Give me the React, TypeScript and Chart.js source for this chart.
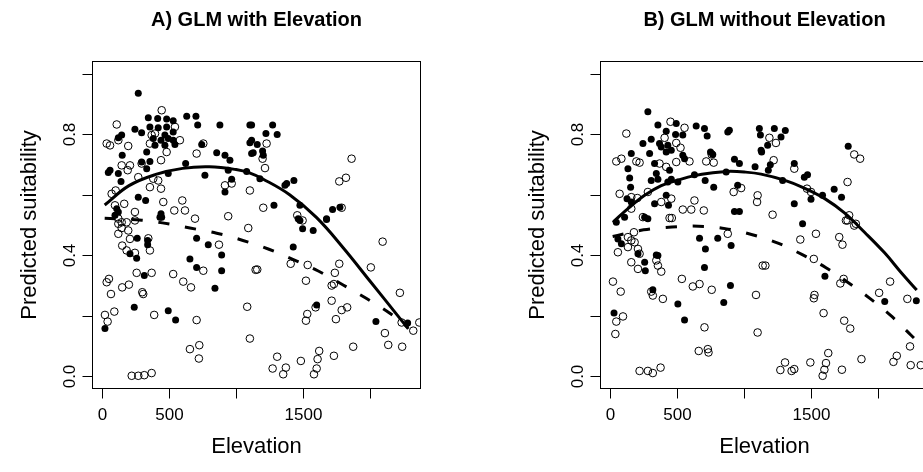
import React, { useEffect, useRef } from "react";
import { Chart, registerables } from "chart.js";
Chart.register(...registerables);

type P = [number, number];

const xTicks = [0, 500, 1000, 1500, 2000];
const xTickLabels = ["0", "500", "", "1500", ""];
const yTicks = [0, 0.2, 0.4, 0.6, 0.8, 1.0];
const yTickLabels = ["0.0", "", "0.4", "", "0.8", ""];

const titleA = "A) GLM with Elevation";
const titleB = "B) GLM without Elevation";
const xTitle = "Elevation";
const yTitle = "Predicted suitability";

// Panel A: presences (filled) and absences (open)
const presenceA: P[] = [
  [269,0.935],[344,0.854],[414,0.852],[481,0.850],[530,0.844],[631,0.859],[700,0.859],[713,0.830],[879,0.830],[1103,0.830],
  [244,0.816],[294,0.805],[356,0.824],[418,0.821],[481,0.824],[530,0.807],[468,0.797],[381,0.786],[439,0.780],[493,0.786],
  [530,0.780],[394,0.763],[468,0.763],[543,0.766],[743,0.766],[145,0.797],[120,0.788],[332,0.741],[855,0.739],[917,0.730],
  [954,0.714],[1103,0.772],[1116,0.736],[149,0.730],[294,0.708],[356,0.710],[332,0.686],[58,0.681],[45,0.673],[120,0.670],
  [140,0.644],[623,0.703],[767,0.664],[941,0.681],[967,0.651],[1079,0.677],[493,0.670],[917,0.609],[269,0.592],[324,0.581],
  [108,0.554],[120,0.543],[439,0.537],[444,0.526],[1116,0.830],[1273,0.830],[1223,0.802],[1307,0.799],[1116,0.780],[1158,0.766],
  [1128,0.739],[1198,0.744],[1203,0.730],[1178,0.653],[1365,0.631],[1378,0.637],[1432,0.647],[1283,0.565],[1477,0.565],[1464,0.521],
  [1477,0.515],[1676,0.521],[1721,0.551],[1776,0.559],[95,0.532],[431,0.526],[261,0.456],[339,0.449],[339,0.435],[207,0.405],
  [257,0.390],[705,0.456],[792,0.435],[892,0.401],[655,0.388],[705,0.360],[892,0.349],[842,0.291],[314,0.333],[239,0.228],
  [493,0.217],[548,0.186],[20,0.158],[1497,0.488],[1576,0.482],[1676,0.518],[1427,0.427],[1602,0.236],[2045,0.181],[2282,0.176]
];
const absenceA: P[] = [
  [444,0.879],[108,0.832],[543,0.824],[33,0.769],[58,0.763],[120,0.780],[194,0.761],[369,0.797],[394,0.802],[356,0.769],
  [580,0.780],[481,0.741],[439,0.714],[705,0.736],[755,0.769],[145,0.697],[207,0.697],[190,0.681],[294,0.703],[269,0.658],
  [381,0.653],[418,0.647],[356,0.625],[439,0.620],[100,0.614],[70,0.603],[917,0.631],[967,0.637],[1103,0.614],[164,0.570],
  [95,0.565],[456,0.576],[598,0.581],[538,0.548],[618,0.548],[244,0.543],[693,0.521],[941,0.529],[120,0.521],[145,0.509],
  [1228,0.769],[1198,0.719],[1216,0.688],[1863,0.719],[1771,0.644],[1821,0.656],[1203,0.557],[1457,0.532],[1497,0.515],[1789,0.557],
  [120,0.504],[145,0.490],[120,0.471],[182,0.509],[194,0.482],[207,0.454],[244,0.515],[1091,0.490],[149,0.432],[182,0.416],
  [244,0.408],[356,0.416],[344,0.456],[872,0.435],[257,0.342],[369,0.342],[530,0.338],[605,0.313],[663,0.294],[755,0.349],
  [1146,0.352],[50,0.322],[33,0.311],[65,0.272],[149,0.294],[199,0.303],[299,0.278],[306,0.272],[20,0.203],[40,0.181],
  [90,0.214],[388,0.203],[705,0.186],[1083,0.230],[1103,0.125],[655,0.090],[725,0.103],[722,0.059],[220,0.002],[269,0.002],
  [314,0.004],[369,0.011],[2095,0.445],[1158,0.353],[1408,0.372],[1535,0.368],[1771,0.372],[1522,0.316],[1738,0.342],[1714,0.300],
  [1731,0.305],[2007,0.360],[2224,0.276],[1532,0.206],[1522,0.184],[1594,0.228],[1714,0.250],[1746,0.189],[1789,0.219],[1830,0.228],
  [2112,0.143],[2137,0.104],[2241,0.098],[2237,0.178],[2324,0.151],[2369,0.178],[1875,0.098],[1307,0.065],[1273,0.026],[1352,0.007],
  [1372,0.029],[1484,0.051],[1621,0.084],[1609,0.057],[1602,0.026],[1582,0.007],[1731,0.068]
];
const fitSolidA: P[] = [
  [18,0.566],[200,0.630],[400,0.667],[600,0.687],[800,0.692],[1000,0.683],[1100,0.672],[1200,0.652],[1400,0.600],
  [1600,0.525],[1800,0.425],[2000,0.315],[2200,0.205],[2287,0.157]
];
const fitDashedA: P[] = [
  [18,0.522],[294,0.516],[450,0.507],[655,0.490],[855,0.473],[1051,0.449],[1245,0.420],[1432,0.385],[1614,0.348],
  [1800,0.302],[1975,0.257],[2157,0.206],[2287,0.160]
];

// Panel B
const presenceB: P[] = [
  [281,0.874],[356,0.830],[418,0.810],[493,0.835],[488,0.799],[542,0.797],[642,0.827],[704,0.819],[724,0.794],[890,0.813],
  [878,0.807],[1114,0.819],[1122,0.797],[244,0.769],[306,0.783],[368,0.769],[381,0.758],[430,0.763],[418,0.741],[456,0.747],
  [542,0.730],[555,0.719],[157,0.736],[294,0.736],[749,0.741],[766,0.733],[928,0.717],[965,0.703],[1127,0.747],[1082,0.692],
  [132,0.686],[145,0.655],[331,0.703],[344,0.670],[356,0.651],[306,0.647],[443,0.681],[456,0.651],[430,0.642],[505,0.642],
  [629,0.666],[709,0.647],[773,0.625],[866,0.675],[952,0.631],[152,0.625],[125,0.587],[157,0.576],[418,0.598],[435,0.565],
  [331,0.570],[928,0.545],[965,0.545],[257,0.526],[281,0.521],[107,0.526],[45,0.509],
  [1226,0.819],[1308,0.812],[1276,0.791],[1176,0.763],[1131,0.741],[1196,0.699],[1181,0.681],[1375,0.703],[1288,0.647],[1450,0.658],
  [1474,0.666],[1500,0.585],[1586,0.598],[1673,0.618],[1728,0.592],[1778,0.760],[1375,0.570],[1437,0.504],
  [57,0.454],[83,0.438],[207,0.405],[257,0.377],[262,0.349],[344,0.401],[356,0.399],[667,0.456],[803,0.456],[903,0.432],
  [711,0.421],[704,0.360],[898,0.300],[848,0.244],[318,0.286],[505,0.239],[555,0.186],[28,0.209],[1604,0.331],[2051,0.247],[2287,0.250]
];
const absenceB: P[] = [
  [120,0.802],[450,0.841],[555,0.821],[493,0.771],[406,0.788],[525,0.755],[45,0.710],[83,0.719],[195,0.710],[219,0.706],
  [368,0.703],[418,0.692],[493,0.708],[592,0.710],[717,0.710],[758,0.733],[773,0.706],[922,0.609],[978,0.622],[1101,0.598],
  [1097,0.576],[70,0.603],[157,0.592],[202,0.589],[281,0.609],[381,0.576],[456,0.587],[157,0.554],[542,0.551],[605,0.551],
  [629,0.581],[699,0.548],[244,0.526],[443,0.523],[460,0.523],
  [1189,0.788],[1238,0.771],[1221,0.714],[1375,0.686],[1823,0.733],[1867,0.719],[1773,0.642],[1470,0.620],[1500,0.609],[1213,0.534],
  [1785,0.532],[1773,0.515],[1835,0.504],
  [132,0.460],[157,0.449],[132,0.427],[182,0.443],[177,0.476],[57,0.410],[207,0.421],[219,0.405],[157,0.377],[207,0.355],
  [344,0.383],[356,0.366],[381,0.346],[878,0.471],[20,0.313],[78,0.280],[306,0.280],[318,0.267],[393,0.256],[535,0.322],
  [617,0.297],[667,0.305],[758,0.286],[1139,0.366],[1089,0.269],[95,0.198],[45,0.181],[38,0.140],[704,0.162],[1101,0.145],
  [661,0.084],[729,0.090],[734,0.079],[219,0.018],[281,0.018],[318,0.011],[376,0.029],
  [1537,0.471],[1420,0.452],[1711,0.460],[1735,0.435],[1761,0.515],[1823,0.498],[1159,0.366],[1521,0.388],[1744,0.322],[1719,0.307],
  [1526,0.269],[1521,0.258],[2009,0.276],[2091,0.313],[2220,0.256],[1594,0.209],[1748,0.184],[1793,0.158],[2240,0.099],
  [1306,0.046],[1271,0.021],[1355,0.018],[1375,0.024],[1495,0.046],[1629,0.077],[1612,0.044],[1600,0.022],[1587,0.002],[1731,0.022],
  [1877,0.057],[2116,0.048],[2141,0.068],[2245,0.037],[2320,0.037]
];
const fitSolidB: P[] = [
  [20,0.509],[132,0.554],[257,0.598],[381,0.630],[505,0.648],[629,0.663],[754,0.672],[878,0.677],[1002,0.675],[1127,0.668],
  [1300,0.648],[1450,0.622],[1600,0.588],[1750,0.540],[1900,0.476],[2050,0.408],[2170,0.345],[2290,0.285]
];
const fitDashedB: P[] = [
  [18,0.462],[249,0.484],[462,0.493],[659,0.496],[860,0.488],[1062,0.468],[1248,0.441],[1435,0.402],[1612,0.359],
  [1774,0.311],[1947,0.255],[2106,0.197],[2248,0.136],[2320,0.105]
];

const FONT = "'Liberation Sans', Arial, Helvetica, sans-serif";

const toXY = (a: P[]) => a.map(([x, y]) => ({ x, y }));

function makeAxesPlugin(title: string) {
  return {
    id: "rAxes",
    afterDraw(chart: any) {
      const { ctx, chartArea } = chart;
      const xs = chart.scales.x;
      const ys = chart.scales.y;
      const { left, right, top, bottom } = chartArea;
      ctx.save();
      ctx.strokeStyle = "#000";
      ctx.fillStyle = "#000";
      ctx.lineWidth = 1;
      ctx.strokeRect(left, top, right - left, bottom - top);
      const tl = 10;
      ctx.font = `17px ${FONT}`;
      ctx.textAlign = "center";
      ctx.textBaseline = "middle";
      xTicks.forEach((v, i) => {
        const px = Math.round(xs.getPixelForValue(v)) + 0.5;
        ctx.beginPath();
        ctx.moveTo(px, bottom);
        ctx.lineTo(px, bottom + tl);
        ctx.stroke();
        if (xTickLabels[i]) ctx.fillText(xTickLabels[i], px, bottom + 27);
      });
      yTicks.forEach((v, i) => {
        const py = Math.round(ys.getPixelForValue(v)) + 0.5;
        ctx.beginPath();
        ctx.moveTo(left - tl, py);
        ctx.lineTo(left, py);
        ctx.stroke();
        if (yTickLabels[i]) {
          ctx.save();
          ctx.translate(left - 22.5, py);
          ctx.rotate(-Math.PI / 2);
          ctx.fillText(yTickLabels[i], 0, 0);
          ctx.restore();
        }
      });
      const cx = (left + right) / 2;
      const cy = (top + bottom) / 2;
      ctx.font = `22px ${FONT}`;
      ctx.fillText(xTitle, cx, 447);
      ctx.save();
      ctx.translate(30, cy);
      ctx.rotate(-Math.PI / 2);
      ctx.fillText(yTitle, 0, 0);
      ctx.restore();
      ctx.font = `bold 20px ${FONT}`;
      ctx.fillText(title, cx, 20);
      ctx.restore();
    },
  };
}

function Panel(props: { title: string; presence: P[]; absence: P[]; solid: P[]; dashed: P[]; left: number }) {
  const ref = useRef<HTMLCanvasElement | null>(null);
  useEffect(() => {
    if (!ref.current) return;
    const chart = new Chart(ref.current, {
      type: "scatter",
      data: {
        datasets: [
          {
            type: "line",
            data: toXY(props.solid),
            borderColor: "#000",
            borderWidth: 3,
            pointRadius: 0,
            tension: 0.4,
            fill: false,
            order: 0,
          } as any,
          {
            type: "line",
            data: toXY(props.dashed),
            borderColor: "#000",
            borderWidth: 3,
            borderDash: [11, 16],
            pointRadius: 0,
            tension: 0.4,
            fill: false,
            order: 0,
          } as any,
          {
            data: toXY(props.presence),
            pointRadius: 3.5,
            backgroundColor: "#000",
            borderWidth: 0,
            order: 1,
          },
          {
            data: toXY(props.absence),
            pointRadius: 3.8,
            backgroundColor: "rgba(0,0,0,0)",
            borderColor: "#000",
            borderWidth: 1,
            order: 1,
          },
        ],
      },
      options: {
        animation: false,
        responsive: false,
        events: [],
        layout: { padding: { left: 92.5, right: 89.5, top: 61.5, bottom: 83.5 } },
        scales: {
          x: { type: "linear", min: -73, max: 2378, display: false },
          y: { type: "linear", min: -0.04, max: 1.04, display: false },
        },
        plugins: { legend: { display: false }, tooltip: { enabled: false } },
      },
      plugins: [makeAxesPlugin(props.title)],
    });
    return () => chart.destroy();
  }, []);
  return (
    <div style={{ position: "absolute", left: props.left, top: 0, width: 510, height: 472 }}>
      <canvas ref={ref} width={510} height={472} style={{ width: 510, height: 472, display: "block" }} />
    </div>
  );
}

export default function App() {
  return (
    <div
      style={{
        position: "fixed",
        left: 0,
        top: 0,
        width: 923,
        height: 472,
        overflow: "hidden",
        background: "#fff",
      }}
    >
      <Panel title={titleA} presence={presenceA} absence={absenceA} solid={fitSolidA} dashed={fitDashedA} left={0} />
      <Panel title={titleB} presence={presenceB} absence={absenceB} solid={fitSolidB} dashed={fitDashedB} left={508} />
    </div>
  );
}
